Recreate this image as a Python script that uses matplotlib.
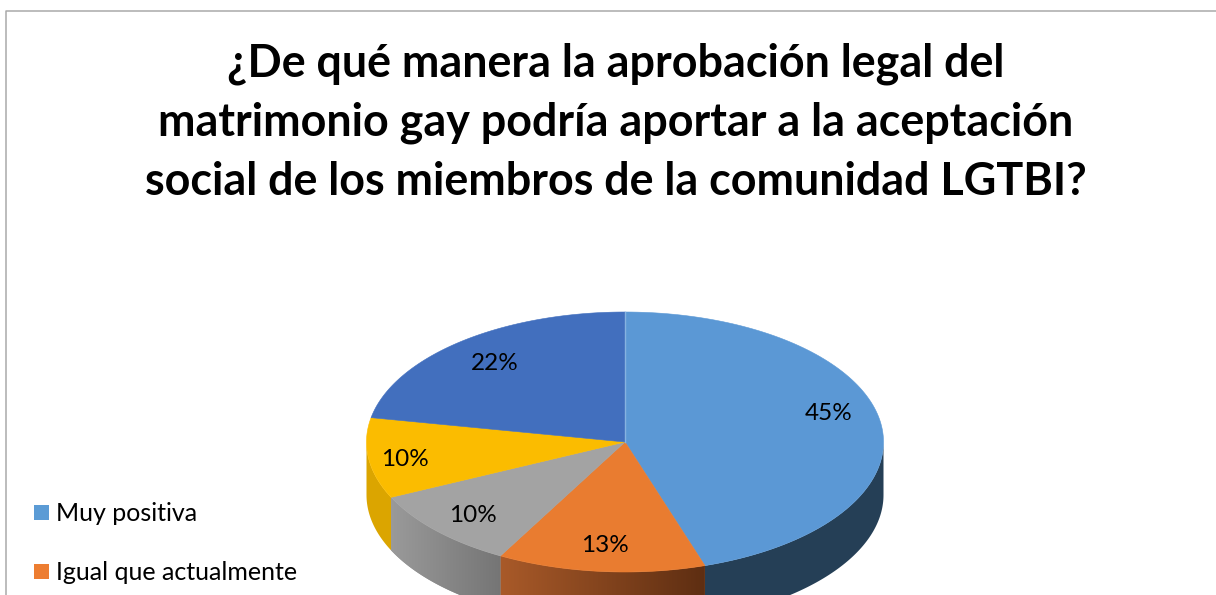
import numpy as np
import matplotlib.pyplot as plt
from matplotlib.patches import Polygon, Rectangle
from matplotlib.colors import LinearSegmentedColormap

plt.rcParams['font.family'] = ['Lato', 'DejaVu Sans']

title_lines = ['¿De qué manera la aprobación legal del',
               'matrimonio gay podría aportar a la aceptación',
               'social de los miembros de la comunidad LGTBI?']
values = [45, 13, 10, 10, 22]
value_labels = ['45%', '13%', '10%', '10%', '22%']
legend_labels = ['Muy positiva', 'Igual que actualmente']

top_colors = ['#5b98d5', '#e97c30', '#a3a3a3', '#fbbc00', '#426fbe']
legend_colors = ['#5b9bd5', '#ed7d31']
side_colors = [('#253f56', '#253f56'), ('#a95a29', '#5e2e12'), ('#9a9a9a', '#757575'),
               ('#dba500', '#dba500'), ('#2f5597', '#2f5597')]

# layout, in pixels of the picture
cx, cy, rx, ry, depth = 625, 442, 258.5, 130, 53
label_xy = [(829, 414), (605, 545), (473, 516), (405, 460), (495, 364)]


def arc(a0, a1, dy=0):
    # angles are clockwise from the top of the pie
    t = np.radians(np.linspace(a0, a1, 120))
    return np.column_stack([cx + rx * np.sin(t), cy - ry * np.cos(t) + dy])


fig = plt.figure(figsize=(12.16, 5.95), dpi=100)
ax = fig.add_axes([0, 0, 1, 1])
ax.set_xlim(0, 1216)
ax.set_ylim(595, 0)
ax.axis('off')

# chart border, runs off the crop on the right and bottom
ax.plot([1216, 6, 6], [11, 11, 595], color='#a9a9a9', lw=1.1)

for i, line in enumerate(title_lines):
    ax.text(615.5, 64 + i * 59, line, ha='center', va='center', fontsize=32.3, fontweight='bold', color='black')

edges = np.cumsum([0] + values) / sum(values) * 360

# sides first, only the front half of the rim can be seen
for i in range(len(values)):
    a0, a1 = max(edges[i], 90), min(edges[i + 1], 270)
    if a0 >= a1:
        continue
    top = arc(a0, a1)
    poly = Polygon(np.vstack([top, arc(a1, a0, depth)]), closed=True, fc=side_colors[i][0], ec='none', zorder=2)
    ax.add_patch(poly)
    if side_colors[i][0] != side_colors[i][1]:
        cmap = LinearSegmentedColormap.from_list('side', side_colors[i])
        x0, x1 = top[:, 0].min(), top[:, 0].max()
        im = ax.imshow(np.linspace(0, 1, 256)[None, :], cmap=cmap, aspect='auto', zorder=3,
                       extent=[min(x0, x1), max(x0, x1), cy + ry + depth, cy - ry])
        im.set_clip_path(poly)
ax.set_xlim(0, 1216)
ax.set_ylim(595, 0)

# top of the pie
for i in range(len(values)):
    pts = np.vstack([[cx, cy], arc(edges[i], edges[i + 1])])
    ax.add_patch(Polygon(pts, closed=True, fc=top_colors[i], ec=top_colors[i], lw=0.4, zorder=4))
ax.plot([cx, cx], [cy, cy - ry], color='#86b2e0', lw=1, zorder=5)

for (x, y), lab in zip(label_xy, value_labels):
    ax.text(x, y, lab, ha='center', va='center', fontsize=17.5, color='black', zorder=6)

# legend, the rest of it is cut off by the crop
for i, lab in enumerate(legend_labels):
    y = 512.5 + i * 59
    ax.add_patch(Rectangle((34, y - 7.5), 15, 15, fc=legend_colors[i], ec='none'))
    ax.text(56, y + 1, lab, ha='left', va='center', fontsize=18, color='black')

fig.savefig('out.png', dpi=100)
